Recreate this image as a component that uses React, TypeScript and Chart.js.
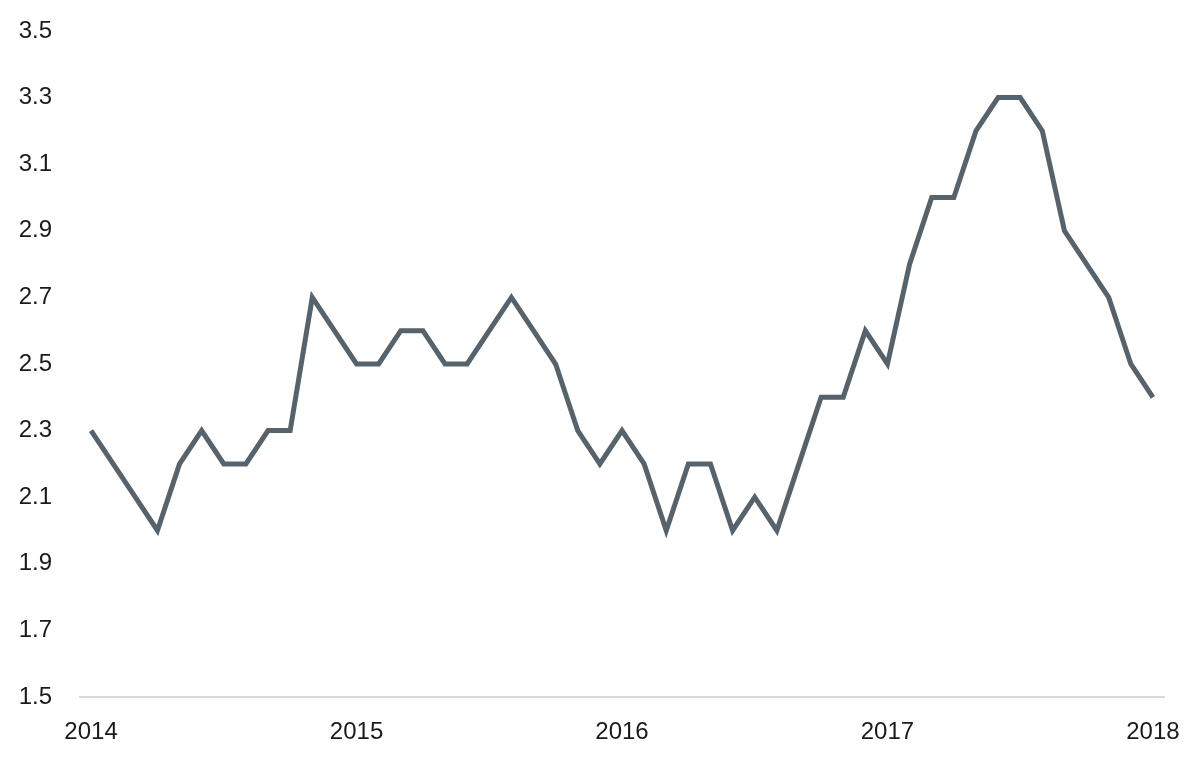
import React, { useEffect, useRef } from "react";
import { Chart, registerables } from "chart.js";

Chart.register(...registerables);

const years = ["2014", "2015", "2016", "2017", "2018"];
// Monthly observations, Jan 2014 .. Jan 2018
const values = [
  2.3, 2.2, 2.1, 2.0, 2.2, 2.3, 2.2, 2.2, 2.3, 2.3, 2.7, 2.6,
  2.5, 2.5, 2.6, 2.6, 2.5, 2.5, 2.6, 2.7, 2.6, 2.5, 2.3, 2.2,
  2.3, 2.2, 2.0, 2.2, 2.2, 2.0, 2.1, 2.0, 2.2, 2.4, 2.4, 2.6,
  2.5, 2.8, 3.0, 3.0, 3.2, 3.3, 3.3, 3.2, 2.9, 2.8, 2.7, 2.5,
  2.4,
];
const yMin = 1.5;
const yMax = 3.5;
const yStep = 0.2;

const labels: string[] = [];
years.forEach((yr, yi) => {
  const n = yi === years.length - 1 ? 1 : 12;
  for (let m = 0; m < n; m++) labels.push(m === 0 ? yr : `${yr}-${m + 1}`);
});

export default function App() {
  const ref = useRef<HTMLCanvasElement | null>(null);
  useEffect(() => {
    if (!ref.current) return;
    const font = { family: "'Liberation Sans', Arial, sans-serif", size: 24 };
    const chart = new Chart(ref.current, {
      type: "line",
      data: {
        labels,
        datasets: [
          {
            data: values,
            borderColor: "#56626c",
            borderWidth: 5,
            pointRadius: 0,
            tension: 0,
            fill: false,
          },
        ],
      },
      options: {
        animation: false,
        responsive: false,
        maintainAspectRatio: false,
        layout: { padding: { top: 31, left: 16, right: 36, bottom: 0 } },
        plugins: { legend: { display: false }, tooltip: { enabled: false } },
        scales: {
          x: {
            type: "category",
            offset: true,
            grid: { display: false, drawTicks: false },
            border: { display: true, color: "#d9d9d9", width: 2 },
            afterFit: (s: any) => {
              s.paddingLeft = 0;
              s.paddingRight = 0;
              s.height = 61;
            },
            ticks: {
              autoSkip: false,
              maxRotation: 0,
              minRotation: 0,
              padding: 21,
              color: "#1a1a1a",
              font,
              callback: (_v: any, i: number) => (i % 12 === 0 ? labels[i] : ""),
            },
          },
          y: {
            min: yMin,
            max: yMax,
            grid: { display: false, drawTicks: false },
            border: { display: false },
            afterFit: (s: any) => {
              s.width = 64;
              s.paddingTop = 0;
              s.paddingBottom = 0;
            },
            ticks: {
              stepSize: yStep,
              padding: 28,
              color: "#1a1a1a",
              font,
              callback: (v: any) => Number(v).toFixed(1),
            },
          },
        },
      },
    });
    return () => chart.destroy();
  }, []);
  return (
    <div style={{ position: "absolute", left: 0, top: 0, width: 1200, height: 758, background: "#fff" }}>
      <canvas ref={ref} width={1200} height={758} style={{ width: 1200, height: 758 }} />
    </div>
  );
}
